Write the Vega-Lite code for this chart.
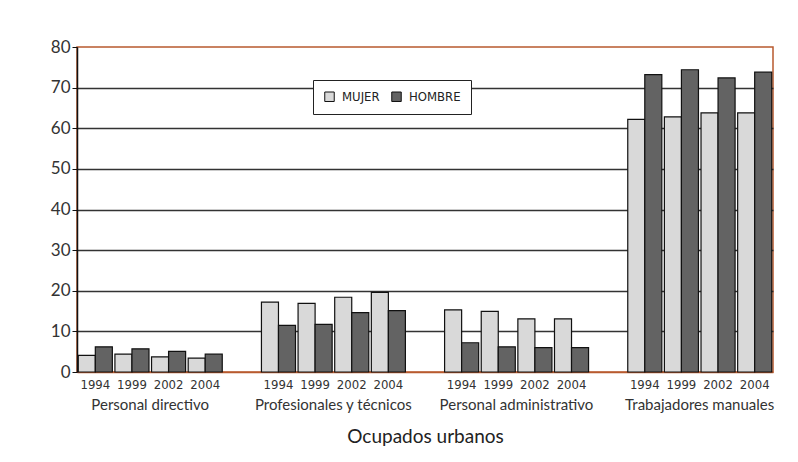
{
  "$schema": "https://vega.github.io/schema/vega-lite/v6.json",
  "width": 696,
  "height": 325,
  "autosize": "none",
  "padding": {"left": 77, "top": 47, "right": 25, "bottom": 90},
  "background": "white",
  "config": {
    "view": {"stroke": "#b85a2e", "strokeWidth": 1.5},
    "font": "Lato"
  },
  "layer": [
    {
      "data": {
        "values": [
          {"categoria": "Personal directivo", "anio": "1994", "sexo": "MUJER", "valor": 4.1},
          {"categoria": "Personal directivo", "anio": "1994", "sexo": "HOMBRE", "valor": 6.2},
          {"categoria": "Personal directivo", "anio": "1999", "sexo": "MUJER", "valor": 4.4},
          {"categoria": "Personal directivo", "anio": "1999", "sexo": "HOMBRE", "valor": 5.7},
          {"categoria": "Personal directivo", "anio": "2002", "sexo": "MUJER", "valor": 3.7},
          {"categoria": "Personal directivo", "anio": "2002", "sexo": "HOMBRE", "valor": 5.1},
          {"categoria": "Personal directivo", "anio": "2004", "sexo": "MUJER", "valor": 3.4},
          {"categoria": "Personal directivo", "anio": "2004", "sexo": "HOMBRE", "valor": 4.4},
          {"categoria": "Profesionales y técnicos", "anio": "1994", "sexo": "MUJER", "valor": 17.2},
          {"categoria": "Profesionales y técnicos", "anio": "1994", "sexo": "HOMBRE", "valor": 11.5},
          {"categoria": "Profesionales y técnicos", "anio": "1999", "sexo": "MUJER", "valor": 16.9},
          {"categoria": "Profesionales y técnicos", "anio": "1999", "sexo": "HOMBRE", "valor": 11.7},
          {"categoria": "Profesionales y técnicos", "anio": "2002", "sexo": "MUJER", "valor": 18.4},
          {"categoria": "Profesionales y técnicos", "anio": "2002", "sexo": "HOMBRE", "valor": 14.6},
          {"categoria": "Profesionales y técnicos", "anio": "2004", "sexo": "MUJER", "valor": 19.6},
          {"categoria": "Profesionales y técnicos", "anio": "2004", "sexo": "HOMBRE", "valor": 15.1},
          {"categoria": "Personal administrativo", "anio": "1994", "sexo": "MUJER", "valor": 15.3},
          {"categoria": "Personal administrativo", "anio": "1994", "sexo": "HOMBRE", "valor": 7.2},
          {"categoria": "Personal administrativo", "anio": "1999", "sexo": "MUJER", "valor": 14.9},
          {"categoria": "Personal administrativo", "anio": "1999", "sexo": "HOMBRE", "valor": 6.2},
          {"categoria": "Personal administrativo", "anio": "2002", "sexo": "MUJER", "valor": 13.1},
          {"categoria": "Personal administrativo", "anio": "2002", "sexo": "HOMBRE", "valor": 6.0},
          {"categoria": "Personal administrativo", "anio": "2004", "sexo": "MUJER", "valor": 13.1},
          {"categoria": "Personal administrativo", "anio": "2004", "sexo": "HOMBRE", "valor": 6.0},
          {"categoria": "Trabajadores manuales", "anio": "1994", "sexo": "MUJER", "valor": 62.2},
          {"categoria": "Trabajadores manuales", "anio": "1994", "sexo": "HOMBRE", "valor": 73.2},
          {"categoria": "Trabajadores manuales", "anio": "1999", "sexo": "MUJER", "valor": 62.8},
          {"categoria": "Trabajadores manuales", "anio": "1999", "sexo": "HOMBRE", "valor": 74.4},
          {"categoria": "Trabajadores manuales", "anio": "2002", "sexo": "MUJER", "valor": 63.8},
          {"categoria": "Trabajadores manuales", "anio": "2002", "sexo": "HOMBRE", "valor": 72.4},
          {"categoria": "Trabajadores manuales", "anio": "2004", "sexo": "MUJER", "valor": 63.8},
          {"categoria": "Trabajadores manuales", "anio": "2004", "sexo": "HOMBRE", "valor": 73.8}
        ]
      },
      "transform": [{"calculate": "datum.categoria + '|' + datum.anio", "as": "slot"}],
      "mark": {"type": "bar", "stroke": "#111111", "strokeWidth": 1.2},
      "encoding": {
        "x": {
          "field": "slot",
          "type": "nominal",
          "sort": null,
          "title": "Ocupados urbanos",
          "scale": {
            "domain": [
              "Personal directivo|1994", "Personal directivo|1999", "Personal directivo|2002", "Personal directivo|2004", "gap1",
              "Profesionales y técnicos|1994", "Profesionales y técnicos|1999", "Profesionales y técnicos|2002", "Profesionales y técnicos|2004", "gap2",
              "Personal administrativo|1994", "Personal administrativo|1999", "Personal administrativo|2002", "Personal administrativo|2004", "gap3",
              "Trabajadores manuales|1994", "Trabajadores manuales|1999", "Trabajadores manuales|2002", "Trabajadores manuales|2004"
            ],
            "paddingInner": 0.07,
            "paddingOuter": 0.035
          },
          "axis": {
            "labelExpr": "indexof(datum.value, '|') >= 0 ? split(datum.value, '|')[1] : ''",
            "labelAngle": 0,
            "ticks": false,
            "domainColor": "#b85a2e",
            "domainWidth": 1.5,
            "labelFont": "'DejaVu Sans Condensed', 'Liberation Sans Narrow', 'Arial Narrow', sans-serif",
            "labelFontSize": 13,
            "labelColor": "#333333",
            "labelPadding": 6,
            "titleFont": "Lato",
            "titleFontSize": 19,
            "titleFontWeight": "normal",
            "titleColor": "#222222",
            "titlePadding": 36
          }
        },
        "xOffset": {
          "field": "sexo",
          "type": "nominal",
          "scale": {"domain": ["MUJER", "HOMBRE"], "paddingInner": 0, "paddingOuter": 0}
        },
        "y": {
          "field": "valor",
          "type": "quantitative",
          "title": null,
          "scale": {"domain": [0, 80], "nice": false},
          "axis": {
            "values": [0, 10, 20, 30, 40, 50, 60, 70, 80],
            "grid": true,
            "gridColor": "#333333",
            "gridWidth": 1.5,
            "gridOpacity": {"condition": {"test": "datum.value === 0 || datum.value === 80", "value": 0}, "value": 1},
            "domainColor": "#111111",
            "domainWidth": 1.5,
            "tickColor": "#111111",
            "tickSize": 5,
            "labelFont": "Lato",
            "labelFontSize": 17,
            "labelColor": "#333333",
            "labelPadding": 2
          }
        },
        "color": {
          "field": "sexo",
          "type": "nominal",
          "scale": {"domain": ["MUJER", "HOMBRE"], "range": ["#d9d9d9", "#636363"]},
          "legend": {
            "title": null,
            "orient": "none",
            "legendX": 236,
            "legendY": 33,
            "direction": "horizontal",
            "fillColor": "white",
            "strokeColor": "#222222",
            "padding": 10,
            "symbolType": "square",
            "symbolSize": 90,
            "symbolStrokeColor": "#111111",
            "symbolStrokeWidth": 1,
            "labelFont": "'DejaVu Sans Condensed', 'Liberation Sans Narrow', 'Arial Narrow', sans-serif",
            "labelFontSize": 13,
            "labelColor": "#222222",
            "labelOffset": 6,
            "columnPadding": 9
          }
        }
      }
    },
    {
      "data": {
        "values": [
          {"categoria": "Personal directivo"},
          {"categoria": "Profesionales y técnicos"},
          {"categoria": "Personal administrativo"},
          {"categoria": "Trabajadores manuales"}
        ]
      },
      "transform": [{"calculate": "datum.categoria + '|2002'", "as": "slot"}],
      "mark": {"type": "text", "baseline": "top", "dy": 26, "fontSize": 15, "font": "Lato", "color": "#333333"},
      "encoding": {
        "x": {
          "field": "slot",
          "type": "nominal",
          "sort": null,
          "bandPosition": -0.04,
          "scale": {
            "domain": [
              "Personal directivo|1994", "Personal directivo|1999", "Personal directivo|2002", "Personal directivo|2004", "gap1",
              "Profesionales y técnicos|1994", "Profesionales y técnicos|1999", "Profesionales y técnicos|2002", "Profesionales y técnicos|2004", "gap2",
              "Personal administrativo|1994", "Personal administrativo|1999", "Personal administrativo|2002", "Personal administrativo|2004", "gap3",
              "Trabajadores manuales|1994", "Trabajadores manuales|1999", "Trabajadores manuales|2002", "Trabajadores manuales|2004"
            ],
            "paddingInner": 0.07,
            "paddingOuter": 0.035
          }
        },
        "y": {"datum": 0, "type": "quantitative"},
        "text": {"field": "categoria"}
      }
    }
  ]
}
